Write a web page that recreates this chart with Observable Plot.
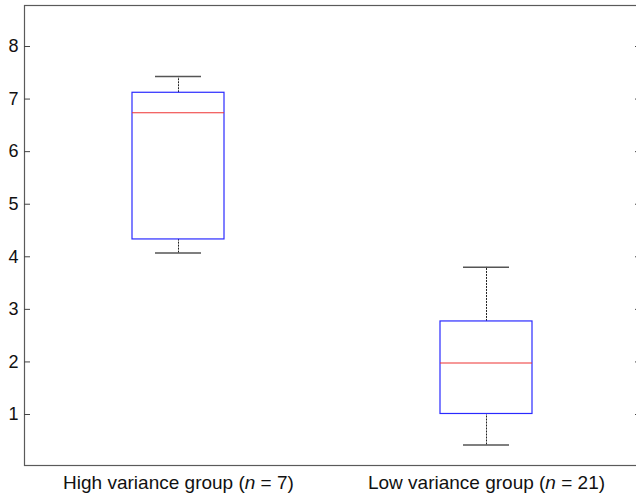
<!DOCTYPE html>
<html>
<head>
<meta charset="utf-8">
<script src="https://cdn.jsdelivr.net/npm/d3@7"></script>
<script src="https://cdn.jsdelivr.net/npm/@observablehq/plot@0.6"></script>
<style>
  html, body { margin: 0; padding: 0; background: #fff; overflow: hidden; }
  #chart { width: 636px; height: 496px; overflow: hidden; }
</style>
</head>
<body>
<div id="chart"></div>
<script>
const groups = ["High variance group (n = 7)", "Low variance group (n = 21)"];
const whiskerLow = [4.07, 0.42];
const q1 = [4.33, 1.01];
const median = [6.74, 1.98];
const q3 = [7.12, 2.77];
const whiskerHigh = [7.43, 3.80];
const yTicks = [1, 2, 3, 4, 5, 6, 7, 8];

const data = groups.map((g, i) => ({
  group: g, lo: whiskerLow[i], q1: q1[i], med: median[i], q3: q3[i], hi: whiskerHigh[i]
}));

const font = "'Liberation Sans', Arial, sans-serif";
const W = 642, ML = 24, MR = 1;
const innerW = W - ML - MR;

const chart = Plot.plot({
  width: W,
  height: 496,
  marginLeft: ML,
  marginRight: MR,
  marginTop: 5,
  marginBottom: 31,
  style: { fontFamily: font, background: "#fff", overflow: "visible", maxWidth: "none" },
  x: { type: "band", domain: groups, paddingInner: 0.7, paddingOuter: 0.35, axis: null },
  y: { domain: [0.03, 8.78], axis: null },
  marks: [
    Plot.frame({ stroke: "#5a5a5a", strokeWidth: 1.2 }),
    Plot.tickY(yTicks, { y: d => d, insetRight: innerW - 6, stroke: "#444" }),
    Plot.tickY(yTicks, { y: d => d, insetLeft: innerW - 6, stroke: "#444" }),
    Plot.axisY({ anchor: "left", ticks: yTicks, tickSize: 0, tickPadding: 6, fontSize: 18, fill: "#111", label: null, tickFormat: d => String(d) }),
    Plot.axisX({ anchor: "bottom", tickSize: 0, tickPadding: 10, fontSize: 19, fill: "#111", label: null }),
    Plot.ruleX(data, { x: "group", y1: "q3", y2: "hi", stroke: "#222", strokeDasharray: "2,1" }),
    Plot.ruleX(data, { x: "group", y1: "lo", y2: "q1", stroke: "#222", strokeDasharray: "2,1" }),
    Plot.tickY(data, { x: "group", y: "hi", stroke: "#555", strokeWidth: 1.5, insetLeft: 23, insetRight: 23 }),
    Plot.tickY(data, { x: "group", y: "lo", stroke: "#555", strokeWidth: 1.5, insetLeft: 23, insetRight: 23 }),
    Plot.barY(data, { x: "group", y1: "q1", y2: "q3", fill: "none", stroke: "#2a2aff", strokeWidth: 1.2 }),
    Plot.tickY(data, { x: "group", y: "med", stroke: "#ee3333", strokeWidth: 1.2 })
  ]
});

// italicise the "n" in the group labels
chart.querySelectorAll("text").forEach(t => {
  const s = t.textContent;
  const m = s.match(/^(.*\()n( = .*)$/);
  if (m) {
    t.textContent = "";
    const a = document.createElementNS("http://www.w3.org/2000/svg", "tspan");
    a.textContent = m[1];
    const b = document.createElementNS("http://www.w3.org/2000/svg", "tspan");
    b.textContent = "n";
    b.setAttribute("font-style", "italic");
    const c = document.createElementNS("http://www.w3.org/2000/svg", "tspan");
    c.textContent = m[2];
    t.append(a, b, c);
  }
});

document.getElementById("chart").appendChild(chart);
</script>
</body>
</html>
